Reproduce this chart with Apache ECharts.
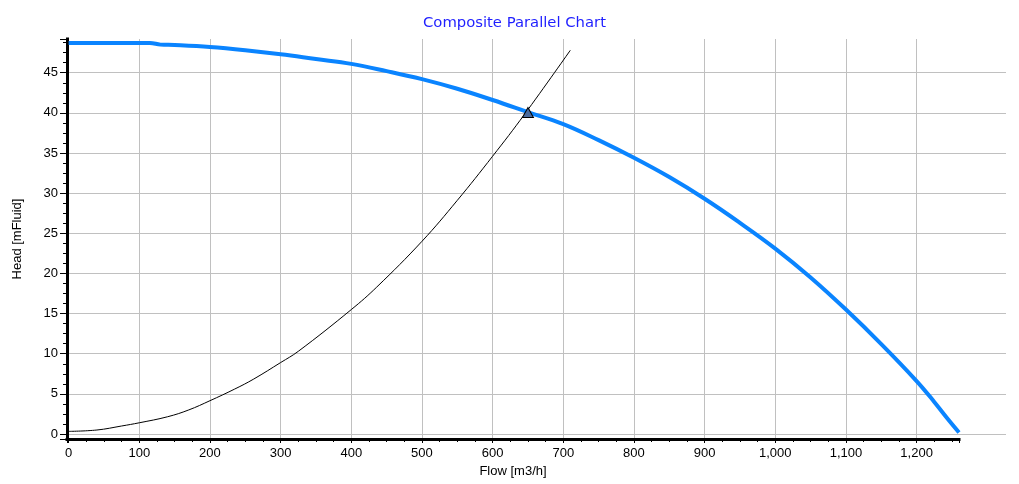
<!DOCTYPE html>
<html>
<head>
<meta charset="utf-8">
<script src="https://cdn.jsdelivr.net/npm/echarts@6/dist/echarts.min.js"></script>
<style>
html,body{margin:0;padding:0;background:#fff;}
#chart{width:1019px;height:484px;}
</style>
</head>
<body>
<div id="chart"></div>
<script>
// ---- data ----
const pumpFlow = [0, 50, 115, 130, 150, 200, 250, 300, 350, 400, 450, 500, 550, 600, 650, 700, 750, 800, 850, 900, 950, 1000, 1050, 1100, 1150, 1200, 1225, 1243, 1260];
const pumpHead = [48.7, 48.7, 48.7, 48.5, 48.45, 48.2, 47.8, 47.3, 46.7, 46.1, 45.2, 44.2, 43.0, 41.6, 40.1, 38.6, 36.6, 34.4, 32.0, 29.3, 26.3, 23.1, 19.5, 15.5, 11.2, 6.6, 4.0, 2.0, 0.2];
const systemFlow = [0, 40, 75, 100, 140, 170, 200, 235, 262, 300, 325, 400, 436, 500, 550, 600, 645, 710];
const systemHead = [0.33, 0.5, 1.0, 1.4, 2.15, 3.0, 4.15, 5.6, 6.85, 8.9, 10.3, 15.5, 18.3, 24.0, 29.1, 34.6, 39.8, 47.8];
const dutyPoint = [650, 40.05];
const titleText = 'Composite Parallel Chart';
const xName = 'Flow [m3/h]';
const yName = 'Head [mFluid]';
const xRange = [-2.3, 1260];
const yRange = [-0.62, 49.2];

const pumpData = pumpFlow.map((q, i) => [q, pumpHead[i]]);
const systemData = systemFlow.map((q, i) => [q, systemHead[i]]);

const labelFont = "'Liberation Sans', Arial, sans-serif";
const gridColor = '#c0c0c0';

const chart = echarts.init(document.getElementById('chart'), null, {renderer: 'canvas'});
chart.setOption({
  animation: false,
  backgroundColor: '#fff',
  title: {
    text: titleText,
    left: 423,
    top: 16,
    padding: 0,
    textStyle: {color: '#1f1fff', fontFamily: "'DejaVu Sans', Verdana, sans-serif", fontSize: 14.8, fontWeight: 'normal'}
  },
  grid: [
    {left: 67, top: 39, width: 892, height: 400, containLabel: false, outerBoundsMode: 'none'},
    {left: 959, top: 39, width: 47, height: 400, containLabel: false, outerBoundsMode: 'none'}
  ],
  xAxis: [
    {
      type: 'value', gridIndex: 0, min: xRange[0], max: xRange[1], splitNumber: 12,
      name: xName, nameLocation: 'middle', nameGap: 24,
      nameTextStyle: {fontFamily: labelFont, fontSize: 13, color: '#000'},
      axisLine: {show: true, onZero: false, lineStyle: {color: '#000', width: 3, cap: 'square'}},
      axisTick: {show: true, length: 4, lineStyle: {color: '#000'}},
      minorTick: {show: true, splitNumber: 4, length: 3, lineStyle: {color: '#000'}},
      splitLine: {show: true, showMinLine: false, showMaxLine: false, lineStyle: {color: gridColor, width: 1}},
      axisLabel: {
        fontFamily: labelFont, fontSize: 13, color: '#000', margin: 8,
        showMinLabel: false, showMaxLabel: false,
        formatter: v => String(Math.round(v)).replace(/\B(?=(\d{3})+(?!\d))/g, ',')
      }
    },
    {type: 'value', gridIndex: 1, min: 0, max: 1, show: false}
  ],
  yAxis: [
    {
      type: 'value', gridIndex: 0, min: yRange[0], max: yRange[1], splitNumber: 10,
      name: yName, nameLocation: 'middle', nameGap: 43, nameRotate: 90,
      nameTextStyle: {fontFamily: labelFont, fontSize: 13, color: '#000'},
      axisLine: {show: true, onZero: false, lineStyle: {color: '#000', width: 3, cap: 'square'}},
      axisTick: {show: true, length: 7, lineStyle: {color: '#000'}},
      minorTick: {show: true, splitNumber: 4, length: 4, lineStyle: {color: '#000'}},
      splitLine: {show: true, showMinLine: false, showMaxLine: false, lineStyle: {color: gridColor, width: 1}},
      axisLabel: {fontFamily: labelFont, fontSize: 13, color: '#000', margin: 9, showMinLabel: false, showMaxLabel: false}
    },
    {
      type: 'value', gridIndex: 1, min: yRange[0], max: yRange[1], splitNumber: 10,
      axisLine: {show: false}, axisTick: {show: false}, axisLabel: {show: false},
      splitLine: {show: true, showMinLine: false, showMaxLine: false, lineStyle: {color: gridColor, width: 1}}
    }
  ],
  series: [
    {
      name: 'Pump', type: 'line', xAxisIndex: 0, yAxisIndex: 0, data: pumpData,
      showSymbol: false, smooth: 0.4, z: 3,
      lineStyle: {color: '#0a84ff', width: 4}
    },
    {
      name: 'System', type: 'line', xAxisIndex: 0, yAxisIndex: 0, data: systemData,
      showSymbol: false, smooth: 0.4, z: 2,
      lineStyle: {color: '#000', width: 1}
    },
    {
      name: 'Duty', type: 'scatter', xAxisIndex: 0, yAxisIndex: 0, data: [dutyPoint],
      symbol: 'triangle', symbolSize: [11, 10], z: 5,
      itemStyle: {color: '#4a6a9c', borderColor: '#000', borderWidth: 1, opacity: 1}
    }
  ]
});
</script>
</body>
</html>
